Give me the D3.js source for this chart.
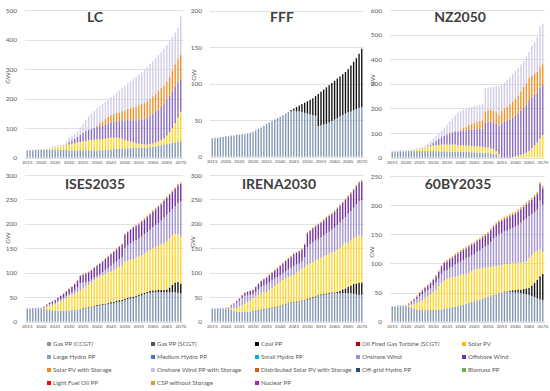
<!DOCTYPE html>
<html><head><meta charset="utf-8">
<script src="https://cdn.jsdelivr.net/npm/d3@7"></script>
<style>body{margin:0;background:#fff} svg{display:block} text{font-family:Lato,"Liberation Sans",sans-serif}</style>
</head><body><svg id="c" width="550" height="391"></svg>
<script>
const years = d3.range(2015, 2071);
const xTickYears = [2015,2020,2025,2030,2035,2040,2045,2050,2055,2060,2065,2070];

// ---- LC ----
const lcGas = [25,25,25,26,26,26,26,27,27,27, 27,27,27,27,26,25,25,25,25,25, 25,25,25,25,25,25,25,25,26,27, 28,29,30,30,31,31,32,32,33,33, 34,34,35,35,36,37,38,40,42,44, 46,48,50,52,54,56];
const lcSolar = [0,0,0,0,0,1,2,3,4,6, 8,10,12,14,16,20,22,24,26,28, 30,32,34,35,36,37,38,38,39,40, 40,39,38,36,33,29,26,23,20,17, 14,12,10,9,10,11,13,15,18,22, 29,38,50,65,82,100];
const lcWind = [0,0,0,0,0,0,0,0,0,0, 0,0,0,1,3,8,12,15,20,25, 30,33,36,38,40,42,44,46,48,50, 52,54,56,58,62,66,70,72,74,76, 80,84,88,92,96,100,104,108,112,116, 122,124,125,125,120,110];
const lcSolarStor = [0,0,0,0,0,0,0,0,0,0, 0,0,0,0,0,0,0,0,0,0, 0,0,0,0,0,5,10,14,18,22, 24,26,28,30,32,34,38,41,44,47, 50,52,54,56,58,60,62,63,64,64, 62,65,70,75,80,83];
const lcWindStor = [2,2,3,3,3,3,3,2,3,5, 5,4,3,3,8,15,17,16,19,25, 31,38,45,52,57,59,58,60,59,59, 61,64,68,74,78,84,86,92,97,102, 104,108,113,116,118,120,121,122,122,124, 123,120,115,108,104,131];

// ---- FFF ----
const fffGas = [25,26,26,27,27,28,28,29,29,30, 30,31,31,32,33,34,36,38,40,42, 45,47,49,51,53,55,57,59,61,62, 63,62,62,61,60,59,58,57,56,42, 43,44,45,47,49,51,53,55,57,59, 61,62,64,65,67,68];
const fffCoal = [0,0,0,0,0,0,0,0,0,0, 0,0,0,0,0,0,0,0,0,0, 0,0,0,0,0,0,0,0,0,2, 3,6,8,11,14,17,20,23,27,44, 46,48,50,51,52,53,54,55,56,57, 59,63,66,70,74,80];

// ---- NZ2050 ----
const nzGas = [25,25,25,26,26,26,27,27,27,27, 27,27,27,27,27,27,26,26,26,26, 25,25,25,25,24,24,24,23,23,22, 22,21,21,20,20,19,18,16,12,5, 0,0,0,0,0,0,0,0,0,0, 0,0,0,0,0,0];
const nzSolar = [0,0,0,0,0,1,2,3,5,7, 9,12,15,18,20,22,24,26,27,28, 28,28,28,28,27,27,27,26,26,26, 25,25,24,24,23,22,20,18,15,10, 0,0,0,0,2,5,8,12,16,20, 28,38,50,62,78,92];
const nzWind = [0,0,0,0,0,0,0,0,0,0, 0,0,0,2,6,12,18,24,30,36, 42,46,50,54,56,58,60,62,64,66, 68,70,72,74,100,105,108,110,112,114, 140,145,150,155,160,165,170,178,186,195, 206,205,205,202,205,203];
const nzSolarStor = [0,0,0,0,0,0,0,0,0,0, 0,0,0,0,0,0,0,0,0,0, 0,0,0,0,0,5,10,15,20,25, 28,30,32,34,45,48,48,46,45,45, 50,55,58,62,66,70,75,80,85,88, 90,90,88,85,85,85];
const nzWindStor = [3,3,4,4,4,4,3,4,4,4, 4,5,8,11,15,17,20,22,27,32, 40,49,57,65,75,76,75,74,71,68, 67,66,66,66,94,91,93,99,106,118, 105,105,107,111,112,112,112,108,105,107, 106,122,127,141,167,165];

// ---- ISES2035 ----
const isesGas = [26,26,26,27,27,27,26,25,24,23, 22,22,22,22,23,23,24,24,25,26, 27,28,29,30,31,32,33,34,35,36, 37,38,40,41,42,44,46,47,48,50, 52,54,56,58,59,60,60,60,60,60, 60,60,60,60,59,58];
const isesCoal = [0,0,0,0,0,0,0,0,0,0, 0,0,0,0,0,0,0,0,0,0, 1,1,1,1,2,2,2,2,2,2, 3,3,3,3,3,3,3,3,3,3, 3,3,3,3,4,4,4,5,5,5, 6,10,15,20,22,20];
const isesSolar = [0,0,0,0,0,0,2,5,8,10, 14,17,20,23,25,30,31,33,35,38, 40,43,46,49,52,55,57,59,61,63, 62,64,66,68,70,76,76,77,77,78, 78,79,80,82,84,86,88,90,93,96, 98,100,102,100,98,96];
const isesOnshore = [1,1,2,1,2,2,2,3,4,4, 3,4,4,4,5,4,5,8,11,15, 12,9,7,6,5,5,5,6,8,9, 12,14,14,16,17,28,31,33,37,36, 37,38,40,40,41,43,46,47,49,52, 55,54,53,56,64,72];
const isesOffshore = [0,0,0,0,0,0,1,2,3,4, 5,6,7,8,9,10,11,12,13,15, 16,17,18,19,20,20,21,22,22,23, 24,24,25,25,26,27,27,28,28,29, 29,30,30,31,31,32,32,33,33,34, 34,35,35,36,36,36];
const isesCSP = [0,0,0,0,0,0,1,1,1,1, 1,1,1,1,1,1,1,1,1,1, 2,2,2,2,2,2,2,2,2,2, 2,2,2,2,2,2,2,2,2,2, 3,3,3,3,3,3,3,3,3,3, 3,3,3,3,3,3];

// ---- IRENA2030 ----
const irenaGas = [26,26,26,27,27,27,26,24,22,21, 20,20,20,20,20,21,22,23,24,25, 26,27,28,29,30,31,33,35,37,39, 40,41,42,43,44,45,46,48,50,52, 54,55,56,57,58,58,58,58,58,58, 58,58,57,56,55,55];
const irenaCoal = [0,0,0,0,0,0,0,0,0,0, 0,0,0,0,0,1,1,1,1,1, 1,1,1,1,1,1,1,1,1,1, 1,1,1,1,1,2,2,2,2,2, 2,2,2,2,2,2,3,5,8,10, 13,16,20,22,25,25];
const irenaSolar = [0,0,0,0,0,0,0,3,5,7, 11,14,17,20,23,26,28,30,32,34, 34,37,40,43,46,50,51,52,53,54, 55,58,61,64,66,69,71,72,73,74, 74,76,78,80,82,83,86,88,91,94, 90,92,94,95,96,94];
const irenaOnshore = [1,1,2,1,1,2,3,6,8,11, 12,15,16,14,12,8,10,12,14,14, 15,15,15,15,14,13,14,15,16,16, 18,17,15,15,21,37,39,40,41,41, 42,43,45,45,46,49,51,52,52,52, 60,60,62,67,71,75];
const irenaOffshore = [0,0,0,0,0,0,0,1,2,3, 4,5,6,7,8,9,10,11,12,13, 14,15,16,17,18,19,20,21,22,23, 24,24,25,25,26,28,28,29,29,30, 30,31,31,32,32,33,33,34,34,35, 35,36,36,37,37,38];
const irenaCSP = [0,0,0,0,0,0,1,1,1,1, 1,1,1,1,1,1,1,1,1,1, 2,2,2,2,2,2,2,2,2,2, 2,2,2,2,2,2,2,2,2,2, 3,3,3,3,3,3,3,3,3,3, 3,3,3,3,3,3];

// ---- 60BY2035 ----
const sbGas = [26,26,26,26,27,27,26,24,22,21, 20,20,20,20,20,20,20,21,21,22, 23,24,25,26,27,28,29,31,32,34, 35,37,38,40,41,43,44,46,47,49, 50,51,51,51,51,50,50,49,48,47, 46,44,42,40,38,37];
const sbCoal = [0,0,0,0,0,0,0,0,0,0, 0,0,0,0,0,0,0,0,0,0, 0,0,0,0,0,0,0,0,0,0, 0,0,0,0,0,0,0,0,0,0, 0,1,1,2,3,4,5,6,8,10, 12,18,25,32,40,45];
const sbSolar = [0,0,0,0,0,0,2,5,8,11, 14,17,20,23,27,31,35,40,45,48, 51,51,51,51,51,52,52,51,51,53, 54,53,53,52,52,51,50,49,48,47, 47,47,47,47,47,46,46,46,46,46, 51,52,52,50,46,38];
const sbOnshore = [1,1,2,2,1,1,1,3,5,7, 10,10,11,11,10,11,12,13,16,17, 14,17,18,21,23,23,25,27,28,27, 27,30,31,34,36,37,43,48,51,54, 55,56,57,59,60,63,65,69,72,74, 72,70,69,70,84,81];
const sbOffshore = [0,0,0,0,0,0,1,2,3,4, 5,6,7,8,9,10,11,12,13,14, 15,15,16,16,16,17,17,17,18,18, 18,18,19,19,19,20,20,20,21,21, 21,21,22,22,22,22,23,23,23,24, 24,25,26,27,28,28];
const sbCSP = [0,0,0,0,0,0,2,2,2,2, 2,2,2,2,2,2,2,2,2,2, 3,3,3,3,3,3,3,3,3,3, 3,3,3,3,3,3,3,3,3,3, 4,4,4,4,4,4,4,4,4,4, 4,4,4,4,4,4];

// ---- legend ----
const legendNames = ["Gas PP (CCGT)","Gas PP (SCGT)","Coal PP","Oil Fired Gas Turbine (SCGT)","Solar PV",
  "Large Hydro PP","Medium Hydro PP","Small Hydro PP","Onshore Wind","Offshore Wind",
  "Solar PV with Storage","Onshore Wind PP with Storage","Distributed Solar PV with Storage","Off-grid Hydro PP","Biomass PP",
  "Light Fuel Oil PP","CSP without Storage","Nuclear PP"];
const legendColors = ["#8497b0","#44546a","#000000","#c00000","#ffc000",
  "#7f9fcf","#4472c4","#00b0f0","#9e8fc8","#7030a0",
  "#f0882a","#c9c0de","#d0601a","#1f4e79","#70ad47",
  "#ff0000","#d4a020","#b020b0"];

const color = {gas:"#8497b0", coal:"#111111", solar:"#ffd42a", onshore:"#a394cf", wind:"#8a6cc0",
  offshore:"#7030a0", solarStor:"#f0902a", windStor:"#d3cce6", csp:"#d9a22c"};

const panels = [
  {title:"LC", yMax:500, yTicks:[0,100,200,300,400,500], x0:25, x1:183, yb:157.7, yt:10.3, tx:95, ty:22, gwx:8, gwy:78,
   layers:{gas:lcGas, solar:lcSolar, wind:lcWind, solarStor:lcSolarStor, windStor:lcWindStor}},
  {title:"FFF", yMax:200, yTicks:[0,50,100,150,200], x0:210, x1:364, yb:156.7, yt:10.7, tx:282, ty:22, gwx:194, gwy:75,
   layers:{gas:fffGas, coal:fffCoal}},
  {title:"NZ2050", yMax:600, yTicks:[0,100,200,300,400,500,600], x0:390, x1:545, yb:157.7, yt:10, tx:460, ty:22, gwx:373, gwy:80,
   layers:{gas:nzGas, solar:nzSolar, wind:nzWind, solarStor:nzSolarStor, windStor:nzWindStor}},
  {title:"ISES2035", yMax:300, yTicks:[0,50,100,150,200,250,300], x0:25, x1:183, yb:321.7, yt:175, tx:95, ty:189, gwx:8, gwy:238,
   layers:{gas:isesGas, coal:isesCoal, solar:isesSolar, onshore:isesOnshore, offshore:isesOffshore, csp:isesCSP}},
  {title:"IRENA2030", yMax:300, yTicks:[0,50,100,150,200,250,300], x0:210, x1:364, yb:321.7, yt:175, tx:279, ty:189, gwx:193, gwy:242,
   layers:{gas:irenaGas, coal:irenaCoal, solar:irenaSolar, onshore:irenaOnshore, offshore:irenaOffshore, csp:irenaCSP}},
  {title:"60BY2035", yMax:250, yTicks:[0,50,100,150,200,250], x0:390, x1:545, yb:321.7, yt:176, tx:458, ty:189, gwx:372, gwy:252,
   layers:{gas:sbGas, coal:sbCoal, solar:sbSolar, onshore:sbOnshore, offshore:sbOffshore, csp:sbCSP}}
];

const svg = d3.select("#c");
svg.append("rect").attr("width",550).attr("height",391).attr("fill","#fff");

panels.forEach(p => {
  const g = svg.append("g");
  const x = d3.scaleBand().domain(years).range([p.x0+1, p.x1-1]).paddingInner(0.5).paddingOuter(0.2);
  const y = d3.scaleLinear().domain([0, p.yMax]).range([p.yb, p.yt]);
  g.selectAll(".grid").data(p.yTicks).join("line")
    .attr("x1", p.x0).attr("x2", p.x1)
    .attr("y1", d => Math.round(y(d))+0.5).attr("y2", d => Math.round(y(d))+0.5)
    .attr("stroke", "#d9d9d9").attr("stroke-width", 0.8);
  const ya = d3.axisLeft(y).tickValues(p.yTicks).tickSize(0).tickPadding(0);
  const yag = g.append("g").attr("transform", `translate(${p.x0-8},0)`).call(ya);
  yag.select(".domain").remove();
  yag.selectAll("text").attr("font-size", 6.5).attr("fill", "#595959").attr("font-family","Lato");
  g.append("text").attr("transform", `translate(${p.gwx},${p.gwy}) rotate(-90)`)
    .attr("text-anchor","middle").attr("dy","0.35em").attr("font-size",6.5).attr("fill","#595959").text("GW");
  const keys = Object.keys(p.layers);
  const rows = years.map((yr, i) => { const r = {year: yr}; keys.forEach(k => r[k] = p.layers[k][i]); return r; });
  const stacked = d3.stack().keys(keys)(rows);
  stacked.forEach(s => {
    g.append("g").selectAll("rect").data(s).join("rect")
      .attr("x", d => x(d.data.year))
      .attr("width", x.bandwidth())
      .attr("y", d => y(d[1]))
      .attr("height", d => Math.max(0, y(d[0]) - y(d[1])))
      .attr("fill", color[s.key]);
  });
  const xa = d3.axisBottom(x).tickValues(xTickYears).tickSize(0).tickPadding(0);
  const xag = g.append("g").attr("transform", `translate(0,${p.yb+3})`).call(xa);
  xag.select(".domain").remove();
  xag.selectAll("text").attr("font-size", 4.6).attr("fill", "#595959").attr("font-family","Lato");
  g.append("text").attr("x", p.tx).attr("y", p.ty).attr("text-anchor","middle")
    .attr("font-size", 14).attr("font-weight","bold").attr("fill","#404040").text(p.title);
});

const legCols = [47, 151, 255, 356, 462];
const legRows = [344, 357, 370, 383];
const lg = svg.append("g");
legendNames.forEach((n, i) => {
  const cx = legCols[i % 5], cy = legRows[Math.floor(i / 5)];
  lg.append("rect").attr("x", cx).attr("y", cy-2).attr("width", 4).attr("height", 4).attr("fill", legendColors[i]);
  lg.append("text").attr("x", cx+6).attr("y", cy).attr("dy","0.35em").attr("font-size", 6.2).attr("fill","#595959").text(n);
});
</script>
</body></html>
